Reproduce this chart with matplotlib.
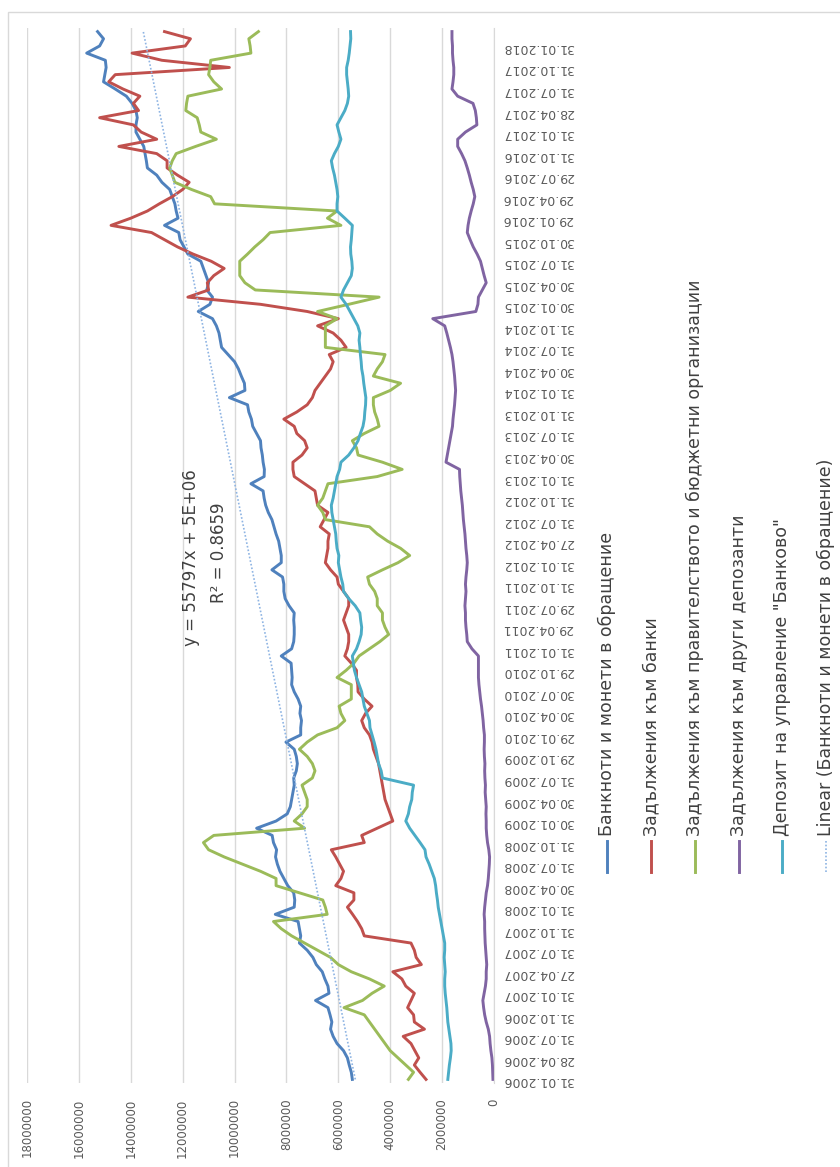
import numpy as np
import matplotlib
matplotlib.use("Agg")
import matplotlib.pyplot as plt
from matplotlib.lines import Line2D
from matplotlib.patches import Rectangle

# quarterly tick labels (every 3rd monthly point)
date_labels = [
    "31.01.2006", "28.04.2006", "31.07.2006", "31.10.2006",
    "31.01.2007", "27.04.2007", "31.07.2007", "31.10.2007",
    "31.01.2008", "30.04.2008", "31.07.2008", "31.10.2008",
    "30.01.2009", "30.04.2009", "31.07.2009", "29.10.2009",
    "29.01.2010", "30.04.2010", "30.07.2010", "29.10.2010",
    "31.01.2011", "29.04.2011", "29.07.2011", "31.10.2011",
    "31.01.2012", "27.04.2012", "31.07.2012", "31.10.2012",
    "31.01.2013", "30.04.2013", "31.07.2013", "31.10.2013",
    "31.01.2014", "30.04.2014", "31.07.2014", "31.10.2014",
    "30.01.2015", "30.04.2015", "31.07.2015", "30.10.2015",
    "29.01.2016", "29.04.2016", "29.07.2016", "31.10.2016",
    "31.01.2017", "28.04.2017", "31.07.2017", "31.10.2017",
    "31.01.2018",
]

# monthly values, millions (Jan 2006 .. Mar 2018)
banknotes = [
    5.46, 5.50, 5.58, 5.65, 5.80, 6.05, 6.20, 6.30, 6.25, 6.32, 6.40, 6.88,
    6.36, 6.40, 6.52, 6.62, 6.85, 6.98, 7.20, 7.50, 7.45, 7.50, 7.55, 8.43,
    7.70, 7.68, 7.72, 7.95, 8.10, 8.25, 8.35, 8.42, 8.38, 8.50, 8.55, 9.15,
    8.40, 7.97, 7.85, 7.80, 7.75, 7.70, 7.72, 7.62, 7.58, 7.62, 7.70, 8.02,
    7.45, 7.45, 7.42, 7.48, 7.45, 7.55, 7.70, 7.80, 7.78, 7.80, 7.82, 8.20,
    7.80, 7.72, 7.70, 7.70, 7.72, 7.70, 7.90, 8.05, 8.10, 8.10, 8.15, 8.56,
    8.20, 8.20, 8.25, 8.30, 8.40, 8.48, 8.56, 8.70, 8.80, 8.86, 8.90, 9.37,
    8.86, 8.85, 8.90, 8.93, 8.98, 9.00, 9.15, 9.30, 9.35, 9.45, 9.50, 10.20,
    9.60, 9.62, 9.74, 9.85, 10.00, 10.25, 10.50, 10.55, 10.60, 10.70, 10.85, 11.40,
    10.95, 10.85, 11.07, 11.00, 11.10, 11.20, 11.30, 11.80, 11.95, 12.10, 12.15, 12.70,
    12.18, 12.25, 12.30, 12.40, 12.50, 12.80, 13.00, 13.36, 13.40, 13.45, 13.50, 13.65,
    13.80, 13.80, 13.75, 13.80, 13.95, 14.17, 14.60, 15.05, 15.00, 14.95, 14.98, 15.70,
    15.20, 15.05, 15.28,
]

banks = [
    2.62, 2.85, 3.07, 2.90, 3.05, 3.20, 3.50, 2.68, 3.07, 3.10, 3.33, 3.20,
    3.07, 3.40, 3.55, 3.90, 2.80, 3.00, 3.07, 3.20, 5.00, 5.10, 5.26, 5.45,
    5.65, 5.40, 5.40, 6.10, 5.90, 5.80, 5.95, 6.10, 6.27, 5.00, 5.10, 4.50,
    3.90, 4.00, 4.10, 4.20, 4.25, 4.30, 4.35, 4.40, 4.45, 4.55, 4.65, 4.70,
    4.80, 5.00, 5.10, 4.95, 4.70, 5.00, 5.24, 5.25, 5.30, 5.30, 5.50, 5.75,
    5.65, 5.60, 5.60, 5.70, 5.80, 5.70, 5.60, 5.60, 5.80, 6.00, 6.05, 6.30,
    6.50, 6.45, 6.40, 6.40, 6.35, 6.70, 6.55, 6.40, 6.80, 6.85, 6.90, 7.30,
    7.70, 7.75, 7.75, 7.40, 7.20, 7.30, 7.60, 7.70, 8.10, 7.60, 7.20, 7.00,
    6.90, 6.70, 6.50, 6.30, 6.20, 6.35, 5.70, 5.90, 6.20, 6.80, 6.00, 7.20,
    9.00, 11.80, 11.00, 11.05, 10.80, 10.40, 10.90, 11.60, 12.20, 12.70, 13.20, 14.76,
    14.00, 13.36, 12.90, 12.40, 12.00, 11.75, 12.20, 12.60, 12.60, 13.00, 14.46, 13.00,
    13.60, 13.90, 15.20, 13.70, 13.90, 13.65, 14.30, 14.85, 14.60, 10.20, 12.80, 13.95,
    11.90, 11.70, 12.70,
]

government = [
    3.30, 3.10, 3.40, 3.70, 4.00, 4.20, 4.40, 4.60, 4.80, 5.00, 5.78, 5.07,
    4.70, 4.23, 4.80, 5.50, 6.00, 6.30, 6.80, 7.30, 7.80, 8.20, 8.50, 6.43,
    6.50, 6.60, 7.50, 8.40, 8.40, 9.00, 9.70, 10.40, 11.00, 11.20, 10.80, 7.30,
    7.70, 7.40, 7.20, 7.20, 7.30, 7.40, 7.00, 6.90, 7.00, 7.20, 7.50, 7.20,
    6.80, 6.05, 5.75, 5.90, 5.97, 5.50, 5.50, 5.50, 6.05, 5.70, 5.40, 5.20,
    4.80, 4.40, 4.06, 4.20, 4.30, 4.30, 4.50, 4.50, 4.60, 4.80, 4.87, 4.30,
    3.70, 3.25, 3.60, 4.10, 4.50, 4.80, 6.50, 6.60, 6.80, 6.60, 6.50, 6.40,
    4.50, 3.54, 4.30, 5.24, 5.30, 5.46, 5.00, 4.43, 4.50, 4.60, 4.65, 4.65,
    4.00, 3.60, 4.65, 4.50, 4.30, 4.20, 6.50, 6.50, 6.50, 6.50, 6.05, 6.80,
    5.60, 4.43, 9.20, 9.60, 9.80, 9.80, 9.80, 9.50, 9.22, 8.90, 8.63, 5.90,
    6.42, 6.05, 10.77, 10.92, 11.66, 12.30, 12.40, 12.50, 12.40, 12.25, 11.50, 10.70,
    11.30, 11.36, 11.44, 11.88, 11.85, 11.80, 10.50, 10.80, 11.00, 10.95, 10.92, 9.37,
    9.40, 9.45, 9.08,
]

other_depositors = [
    0.04, 0.05, 0.06, 0.08, 0.12, 0.15, 0.17, 0.22, 0.30, 0.36, 0.40, 0.43,
    0.38, 0.33, 0.30, 0.30, 0.28, 0.30, 0.32, 0.34, 0.35, 0.36, 0.36, 0.38,
    0.36, 0.33, 0.30, 0.25, 0.22, 0.20, 0.18, 0.17, 0.20, 0.25, 0.28, 0.30,
    0.30, 0.31, 0.30, 0.32, 0.34, 0.33, 0.35, 0.36, 0.35, 0.37, 0.38, 0.37,
    0.37, 0.40, 0.42, 0.45, 0.48, 0.52, 0.55, 0.58, 0.60, 0.60, 0.60, 0.60,
    0.85, 1.03, 1.05, 1.08, 1.10, 1.10, 1.12, 1.10, 1.08, 1.10, 1.08, 1.05,
    1.03, 1.05, 1.08, 1.10, 1.12, 1.15, 1.18, 1.20, 1.22, 1.25, 1.28, 1.30,
    1.32, 1.33, 1.85, 1.80, 1.75, 1.70, 1.65, 1.60, 1.58, 1.55, 1.52, 1.50,
    1.48, 1.50, 1.52, 1.55, 1.58, 1.62, 1.68, 1.75, 1.82, 1.90, 2.36, 0.70,
    0.62, 0.60, 0.45, 0.30, 0.38, 0.45, 0.52, 0.65, 0.80, 0.92, 1.03, 1.00,
    0.95, 0.88, 0.80, 0.74, 0.80, 0.88, 0.95, 1.03, 1.12, 1.25, 1.40, 1.40,
    1.10, 0.66, 0.68, 0.72, 0.81, 1.40, 1.62, 1.58, 1.55, 1.55, 1.58, 1.60,
    1.60, 1.62, 1.62,
]

banking_deposit = [
    1.78, 1.75, 1.72, 1.68, 1.65, 1.66, 1.70, 1.74, 1.78, 1.80, 1.82, 1.85,
    1.88, 1.90, 1.90, 1.88, 1.90, 1.92, 1.90, 1.90, 1.95, 2.00, 2.05, 2.10,
    2.15, 2.18, 2.22, 2.25, 2.30, 2.40, 2.50, 2.62, 2.66, 2.85, 3.05, 3.25,
    3.40, 3.30, 3.25, 3.17, 3.15, 3.10, 4.30, 4.35, 4.45, 4.50, 4.55, 4.62,
    4.70, 4.78, 4.80, 4.90, 5.00, 5.05, 5.10, 5.20, 5.30, 5.38, 5.42, 5.46,
    5.30, 5.20, 5.12, 5.10, 5.14, 5.17, 5.35, 5.60, 5.80, 5.83, 5.90, 5.95,
    6.00, 5.98, 6.05, 6.08, 6.10, 6.15, 6.20, 6.25, 6.27, 6.20, 6.15, 6.10,
    6.05, 5.95, 5.90, 5.60, 5.40, 5.24, 5.15, 5.05, 5.00, 4.98, 4.95, 4.94,
    4.98, 5.02, 5.05, 5.10, 5.12, 5.15, 5.17, 5.20, 5.17, 5.25, 5.40, 5.55,
    5.70, 5.90, 5.80, 5.65, 5.50, 5.46, 5.48, 5.52, 5.53, 5.50, 5.48, 5.46,
    5.75, 6.05, 6.05, 6.02, 6.05, 6.10, 6.15, 6.22, 6.27, 6.15, 6.00, 5.90,
    5.98, 6.05, 5.90, 5.75, 5.65, 5.60, 5.62, 5.65, 5.68, 5.68, 5.62, 5.58,
    5.55, 5.52, 5.53,
]

series_names = [
    "Банкноти и монети в обращение",
    "Задължения към банки",
    "Задължения към правителството и бюджетни организации",
    "Задължения към други депозанти",
    "Депозит на управление \"Банково\"",
]
trend_name = "Linear (Банкноти и монети в обращение)"
colors = ["#4F81BD", "#C0504D", "#9BBB59", "#8064A2", "#4BACC6"]
trend_color = "#8EB4E3"

all_series = [banknotes, banks, government, other_depositors, banking_deposit]

W, H = 840, 1167
fig = plt.figure(figsize=(W / 100, H / 100), dpi=100)

# chart is shown turned 90 degrees: dates run bottom->top, values right->left
ax = fig.add_axes([27 / W, (H - 1083) / H, (494 - 27) / W, (1083 - 28) / H])

idx = np.arange(len(banknotes))
for vals, c in zip(all_series, colors):
    ax.plot(np.array(vals) * 1e6, idx, color=c, lw=2.1, solid_joinstyle="round")

# linear trend of the first series (x = 1..n like Excel)
coef = np.polyfit(idx + 1, np.array(banknotes) * 1e6, 1)
ax.plot(np.polyval(coef, idx + 1), idx, color=trend_color, lw=1.2,
        linestyle=(0, (1, 1.2)))

ax.set_xlim(18e6, 0)
ax.set_ylim(-0.5, len(idx) - 0.5)

xt = np.arange(0, 18e6 + 1, 2e6)
ax.set_xticks(xt)
ax.set_xticklabels([str(int(v)) for v in xt], rotation=90, fontsize=8.5,
                   color="#595959")
ax.set_yticks(idx[::3])
ax.set_yticklabels(date_labels, rotation=180, fontsize=9, color="#595959")
ax.yaxis.tick_right()
ax.tick_params(axis="x", length=0, pad=11)
ax.tick_params(axis="y", length=0, pad=6)

ax.grid(axis="x", color="#D9D9D9", lw=1)
ax.set_axisbelow(True)
for s in ["top", "left", "bottom"]:
    ax.spines[s].set_visible(False)
ax.spines["right"].set_color("#D9D9D9")

# trendline equation
fig.text(191 / W, 1 - 558 / H, "y = 55797x + 5E+06", rotation=90,
         ha="center", va="center", fontsize=12, color="#404040")
fig.text(219 / W, 1 - 553 / H, "R² = 0.8659", rotation=90,
         ha="center", va="center", fontsize=12, color="#404040")

# legend, drawn by hand in the turned layout
leg_x = [607, 651, 695, 739, 782, 826]
leg_labels = series_names + [trend_name]
leg_colors = colors + [trend_color]
for i, (lx, lab, c) in enumerate(zip(leg_x, leg_labels, leg_colors)):
    ls = (0, (1, 1.2)) if i == 5 else "-"
    lw = 1.2 if i == 5 else 2.1
    fig.add_artist(Line2D([lx / W, lx / W], [1 - 872 / H, 1 - 841 / H],
                          transform=fig.transFigure, color=c, lw=lw, linestyle=ls))
    fig.text(lx / W, 1 - 836 / H, lab, rotation=90, ha="center", va="bottom",
             fontsize=12.5, color="#404040")

# chart frame
fig.add_artist(Rectangle((8 / W, -0.05), 1.0, (H - 12) / H + 0.05,
                         transform=fig.transFigure, fill=False,
                         ec="#D9D9D9", lw=1))

fig.savefig("out.png", dpi=100)
